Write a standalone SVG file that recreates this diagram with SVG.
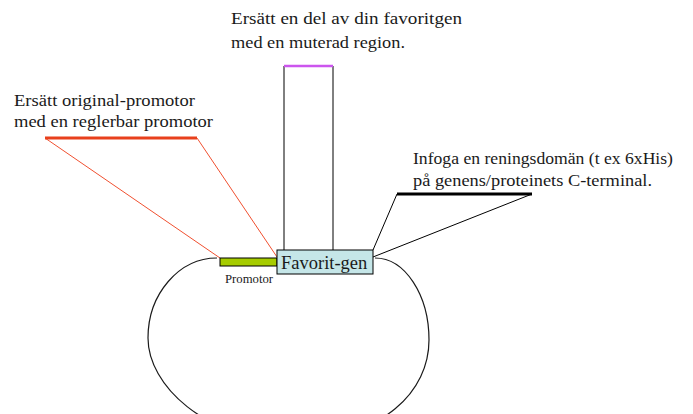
<svg xmlns="http://www.w3.org/2000/svg" width="693" height="414" viewBox="0 0 693 414">
<style>
text{font-family:"Liberation Serif","Times New Roman",serif;fill:#1a1a1a}
.lbl{font-size:17.5px}
.thin{fill:none;stroke-width:1}
</style>
<rect width="693" height="414" fill="#fff"/>
<g id="plasmid">
<path d="M217,258 C179,258 148,294 148,338 C148,385 205,440 290,440 C385,440 429,390 429,340 C429,295 405,258 375,258" fill="none" stroke="#1a1a1a" stroke-width="1.2"/>
</g>
<g id="connectors">
<line x1="45" y1="138" x2="220" y2="258" stroke="#f05030" class="thin"/>
<line x1="197" y1="138" x2="277" y2="257" stroke="#f05030" class="thin"/>
<line x1="284" y1="66" x2="284" y2="250" stroke="#000" class="thin"/>
<line x1="333" y1="66" x2="333" y2="250" stroke="#000" class="thin"/>
<line x1="397" y1="194" x2="373" y2="250" stroke="#000" class="thin"/>
<line x1="532" y1="194" x2="373" y2="257" stroke="#000" class="thin"/>
<line x1="45" y1="138" x2="197" y2="138" stroke="#e8401c" stroke-width="3"/>
<line x1="284" y1="66" x2="333" y2="66" stroke="#cc55ee" stroke-width="2.5"/>
<line x1="397" y1="194" x2="532" y2="194" stroke="#000" stroke-width="3"/>
</g>
<g id="promotor">
<rect x="220" y="258" width="57" height="8" fill="#a6cc00" stroke="#000" stroke-width="1"/>
<text x="225" y="283" font-size="12" textLength="48" lengthAdjust="spacingAndGlyphs">Promotor</text>
</g>
<g id="favorit-gen">
<rect x="277" y="250" width="96" height="24" fill="#c5e6e8" stroke="#000" stroke-width="1"/>
<text x="281" y="269" font-size="18.5">Favorit-gen</text>
</g>
<g id="label-top">
<text class="lbl" x="231" y="24" textLength="231" lengthAdjust="spacingAndGlyphs">Ersätt en del av din favoritgen</text>
<text class="lbl" x="231" y="48" textLength="174" lengthAdjust="spacingAndGlyphs">med en muterad region.</text>
</g>
<g id="label-left">
<text class="lbl" x="14" y="106" textLength="181" lengthAdjust="spacingAndGlyphs">Ersätt original-promotor</text>
<text class="lbl" x="14" y="127" textLength="199" lengthAdjust="spacingAndGlyphs">med en reglerbar promotor</text>
</g>
<g id="label-right">
<text class="lbl" x="413" y="164" textLength="260" lengthAdjust="spacingAndGlyphs">Infoga en reningsdomän (t ex 6xHis)</text>
<text class="lbl" x="413" y="186" textLength="239" lengthAdjust="spacingAndGlyphs">på genens/proteinets C-terminal.</text>
</g>
</svg>
